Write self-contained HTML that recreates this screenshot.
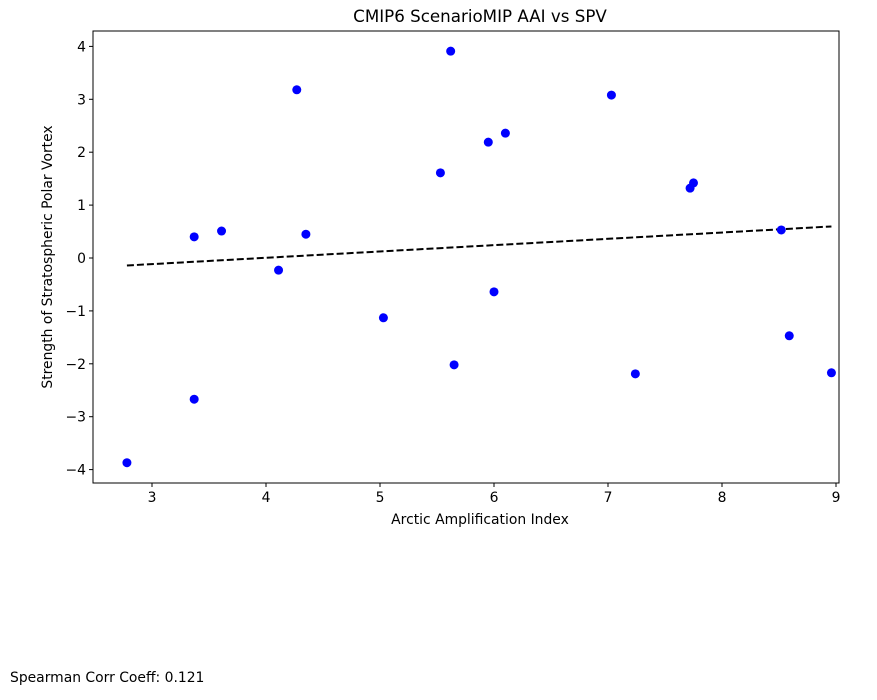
<!DOCTYPE html>
<html><head><meta charset="utf-8"><style>
body{margin:0;background:#fff;font-family:"Liberation Sans","DejaVu Sans",sans-serif;}
svg text{font-family:"DejaVu Sans","Liberation Sans",sans-serif;}
</style></head><body>
<svg id="chart" width="877" height="695">
<text x="480" y="22" font-size="16.7" text-anchor="middle">CMIP6 ScenarioMIP AAI vs SPV</text>
<g id="plot"></g>
<text x="480" y="524" font-size="13.9" text-anchor="middle">Arctic Amplification Index</text>
<text transform="translate(52,257) rotate(-90)" font-size="13.9" text-anchor="middle">Strength of Stratospheric Polar Vortex</text>
<text x="10" y="682" font-size="13.9">Spearman Corr Coeff: 0.121</text>
</svg>
<script>
const xVals=[2.78,3.37,3.37,3.61,4.11,4.27,4.35,5.03,5.53,5.62,5.65,5.95,6.00,6.10,7.03,7.24,7.72,7.75,8.52,8.59,8.96];
const yVals=[-3.87,-2.67,0.40,0.51,-0.23,3.18,0.45,-1.13,1.61,3.91,-2.02,2.19,-0.64,2.36,3.08,-2.19,1.32,1.42,0.53,-1.47,-2.17];
const xTicks=[3,4,5,6,7,8,9];
const yTicks=[-4,-3,-2,-1,0,1,2,3,4];
const L=93,R=839,T=31,B=483;
const sx=v=>152+(v-3)*114;
const sy=v=>258-v*52.9;
const NS="http://www.w3.org/2000/svg";
const g=document.getElementById('plot');
function mk(t,a){const e=document.createElementNS(NS,t);for(const k in a)e.setAttribute(k,a[k]);g.appendChild(e);return e;}
xTicks.forEach(v=>{
 const l=mk('line',{x1:sx(v),x2:sx(v),y1:B,y2:B+4,stroke:'#000'});
 
 
 const t=mk('text',{x:sx(v),y:B+19,'font-size':13.9,'text-anchor':'middle'});t.textContent=v;
 
 
});
yTicks.forEach(v=>{
 const l=mk('line',{x1:L-4,x2:L,y1:sy(v),y2:sy(v),stroke:'#000'});
 
 
 const t=mk('text',{x:L-7,y:sy(v)+5,'font-size':13.9,'text-anchor':'end'});t.textContent=v<0?'\u2212'+(-v):v;
 
 
});
const n=xVals.length;const mx=xVals.reduce((a,b)=>a+b)/n,my=yVals.reduce((a,b)=>a+b)/n;
let sxy=0,sxx=0;for(let i=0;i<n;i++){sxy+=(xVals[i]-mx)*(yVals[i]-my);sxx+=(xVals[i]-mx)**2;}
const m=sxy/sxx,b=my-m*mx;
const x0=Math.min(...xVals),x1=Math.max(...xVals);
const fit=mk('line',{x1:sx(x0),y1:sy(m*x0+b),x2:sx(x1),y2:sy(m*x1+b),stroke:'#000','stroke-width':2,'stroke-dasharray':'7,3'});


for(let i=0;i<n;i++){
 const c=mk('circle',{cx:sx(xVals[i]),cy:sy(yVals[i]),r:4.5,fill:'#0000ff'});
 
 
}
const fr=mk('rect',{x:L,y:T,width:R-L,height:B-T,fill:'none',stroke:'#000','stroke-width':1});


</script>
</body></html>
